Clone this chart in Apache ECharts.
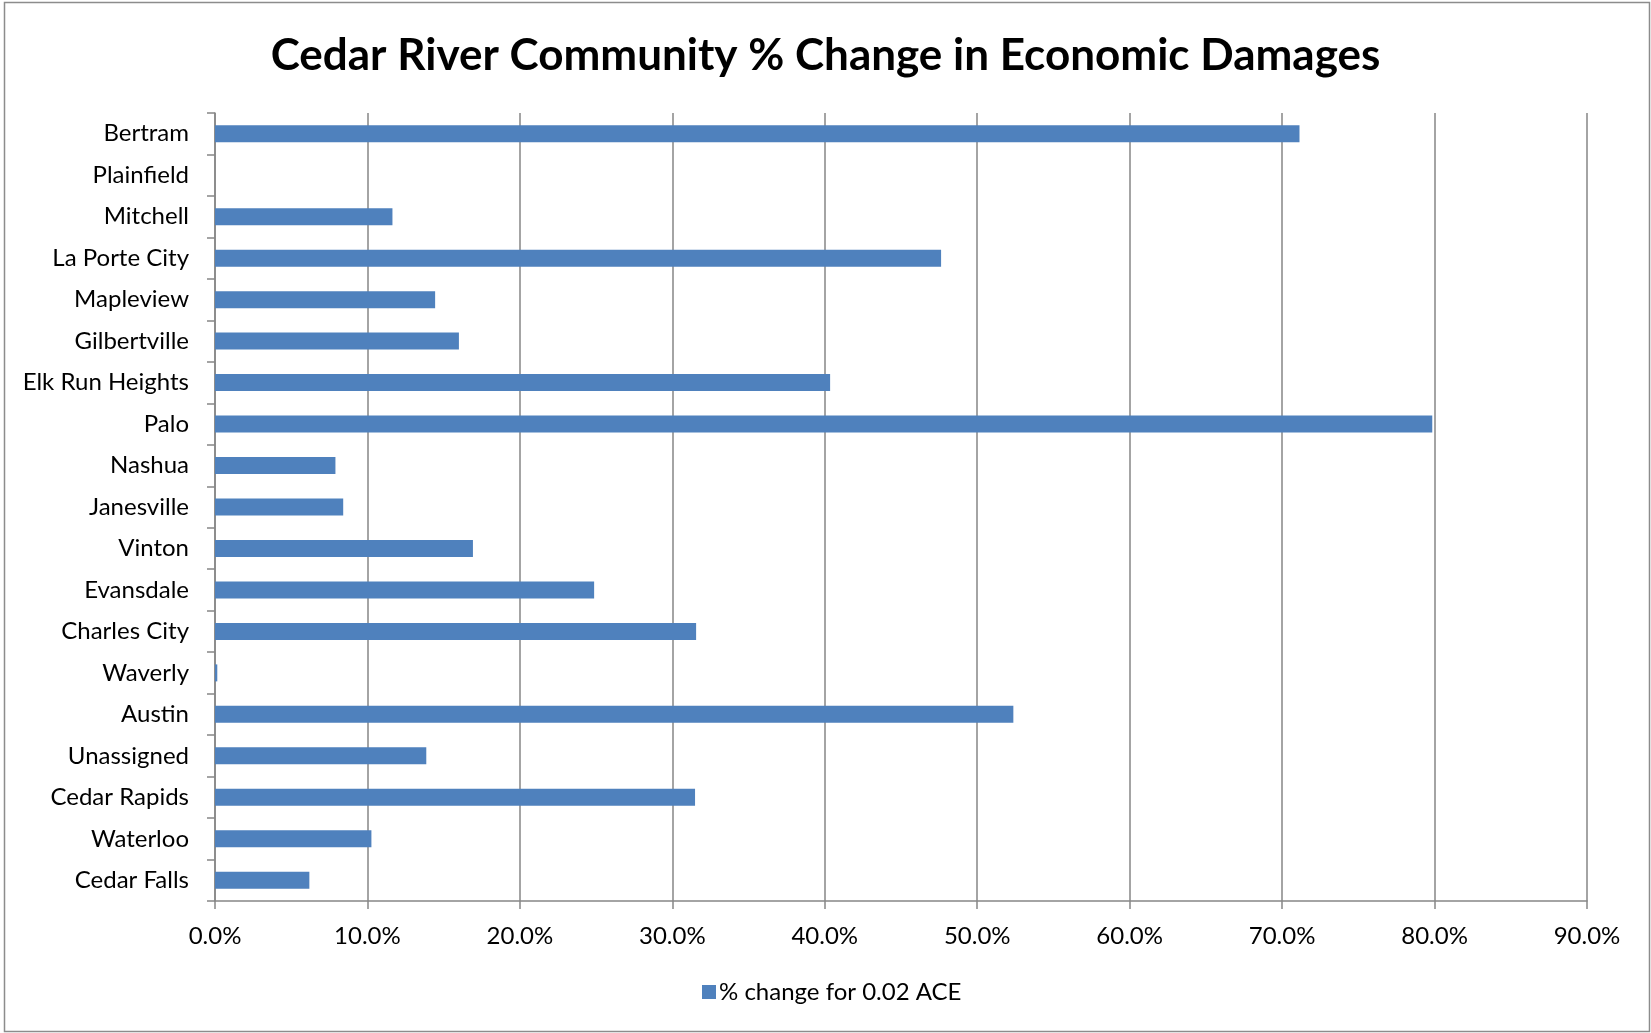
<!DOCTYPE html>
<html>
<head>
<meta charset="utf-8">
<title>Cedar River Community % Change in Economic Damages</title>
<script src="https://cdn.jsdelivr.net/npm/echarts@6/dist/echarts.min.js"></script>
<style>
  html, body { margin: 0; padding: 0; background: #ffffff; }
  #chart { width: 1651px; height: 1033px; }
</style>
</head>
<body>
<div id="chart"></div>
<script>
// Communities, listed top to bottom as they appear on the chart
const communities = [
  'Bertram', 'Plainfield', 'Mitchell', 'La Porte City', 'Mapleview',
  'Gilbertville', 'Elk Run Heights', 'Palo', 'Nashua', 'Janesville',
  'Vinton', 'Evansdale', 'Charles City', 'Waverly', 'Austin',
  'Unassigned', 'Cedar Rapids', 'Waterloo', 'Cedar Falls'
];

// % change in economic damages for the 0.02 ACE event
const pctChange002 = [
  71.14, 0, 11.64, 47.63, 14.44,
  16.0, 40.35, 79.85, 7.9, 8.41,
  16.92, 24.87, 31.56, 0.15, 52.37,
  13.86, 31.49, 10.26, 6.19
];

const seriesName = '% change for 0.02 ACE';
const chartTitle = 'Cedar River Community % Change in Economic Damages';

const axisGray = '#868686';
const barBlue = '#4F81BD';
const fontFamily = 'Lato, "Open Sans", sans-serif';

const chart = echarts.init(document.getElementById('chart'), null, { renderer: 'canvas' });

chart.setOption({
  backgroundColor: '#ffffff',
  animation: false,
  textStyle: { fontFamily: fontFamily, color: '#000000' },
  title: {
    text: chartTitle,
    left: 'center',
    top: 29,
    textStyle: {
      fontFamily: fontFamily,
      fontWeight: 'bold',
      fontSize: 44,
      color: '#000000'
    }
  },
  graphic: [{
    type: 'rect',
    shape: { x: 4.5, y: 2.5, width: 1645, height: 1029 },
    style: { fill: 'none', stroke: '#8c8c8c', lineWidth: 1.5 },
    silent: true,
    z: -1
  }],
  legend: {
    data: [seriesName],
    left: 697,
    top: 975,
    icon: 'rect',
    itemWidth: 14,
    itemHeight: 14,
    textStyle: { fontFamily: fontFamily, fontSize: 24, color: '#000000', padding: [0, 0, 0, -2] }
  },
  grid: {
    left: 215,
    right: 64,
    top: 113,
    bottom: 132,
    containLabel: false
  },
  xAxis: {
    type: 'value',
    min: 0,
    max: 90,
    interval: 10,
    axisLine: { show: true, lineStyle: { color: axisGray, width: 1.5 } },
    axisTick: { show: true, length: 8, lineStyle: { color: axisGray, width: 1.5 } },
    splitLine: { show: true, lineStyle: { color: axisGray, width: 1.5 } },
    axisLabel: {
      margin: 23,
      fontFamily: fontFamily,
      fontSize: 24,
      color: '#000000',
      formatter: function (v) { return v.toFixed(1) + '%'; }
    }
  },
  yAxis: {
    type: 'category',
    data: communities,
    inverse: true,
    axisLine: { show: true, lineStyle: { color: axisGray, width: 1.5 } },
    axisTick: { show: true, length: 8, lineStyle: { color: axisGray, width: 1.5 } },
    splitLine: { show: false },
    axisLabel: {
      margin: 26,
      fontFamily: fontFamily,
      fontSize: 24,
      color: '#000000'
    }
  },
  series: [{
    name: seriesName,
    type: 'bar',
    data: pctChange002,
    barWidth: 17,
    itemStyle: { color: barBlue },
    z: 3
  }]
});
</script>
</body>
</html>
